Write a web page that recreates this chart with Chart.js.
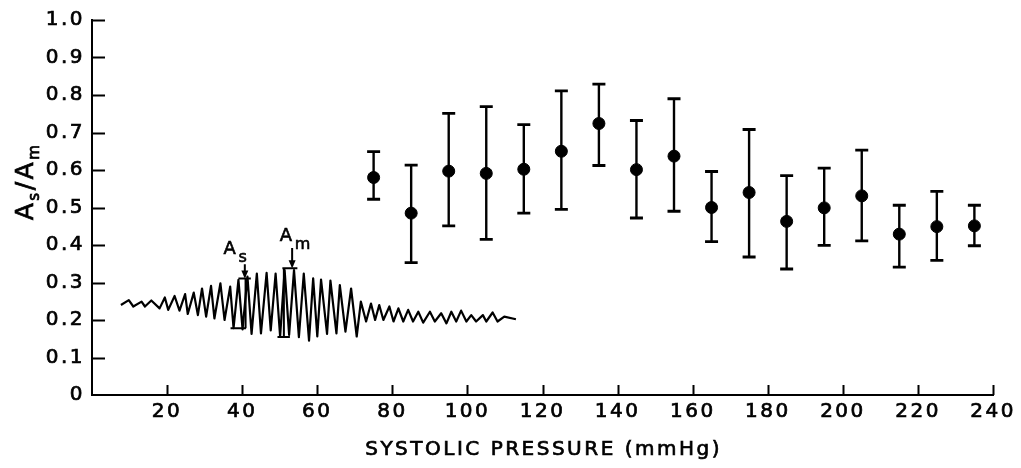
<!DOCTYPE html>
<html>
<head>
<meta charset="utf-8">
<script src="https://cdn.jsdelivr.net/npm/chart.js@4.4.1/dist/chart.umd.min.js"></script>
<style>
  html, body { margin: 0; padding: 0; background: #fff; }
  #wrap { width: 1021px; height: 468px; position: relative; }
</style>
</head>
<body>
<div id="wrap"><canvas id="ratioChart"></canvas></div>
<script>
// systolic pressure bins and As/Am ratio (mean with range)
const pressure = [75, 85, 95, 105, 115, 125, 135, 145, 155, 165, 175, 185, 195, 205, 215, 225, 235];
const ratioMean = [0.580, 0.485, 0.597, 0.591, 0.602, 0.650, 0.724, 0.601, 0.637, 0.500, 0.540, 0.463, 0.499, 0.531, 0.429, 0.449, 0.451];
const ratioLow = [0.522, 0.353, 0.451, 0.415, 0.485, 0.495, 0.612, 0.472, 0.490, 0.409, 0.368, 0.336, 0.399, 0.411, 0.341, 0.359, 0.398];
const ratioHigh = [0.649, 0.613, 0.751, 0.769, 0.721, 0.811, 0.829, 0.732, 0.790, 0.596, 0.708, 0.585, 0.605, 0.653, 0.506, 0.543, 0.506];

// inset cuff pressure trace
const waveX = [7.7, 9.8, 11.0, 13.2, 14.1, 15.8, 18.0, 19.4, 20.3, 22.0, 23.3, 24.8, 25.5, 27.1, 28.2, 29.3, 30.4, 31.7, 32.6, 34.2,
  35.3, 36.8, 37.7, 39.0, 40.1, 41.4, 42.5, 43.9, 45.0, 46.5, 47.6, 48.9, 50.1, 51.3, 52.5, 53.8, 55.1, 56.4, 57.8, 58.9,
  60.0, 61.0, 62.6, 63.5, 65.1, 66.0, 67.5, 69.0, 70.5, 71.6, 73.0, 74.3, 75.4, 76.5, 77.6, 79.2, 80.3, 81.6, 82.9, 84.2,
  85.5, 86.9, 88.2, 90.0, 91.3, 93.0, 94.4, 95.7, 97.0, 98.3, 99.7, 101.0, 102.3, 104.1, 105.0, 106.7, 108.0, 109.8, 112.9];
const waveY = [0.240, 0.253, 0.236, 0.249, 0.236, 0.252, 0.231, 0.260, 0.227, 0.264, 0.225, 0.269, 0.216, 0.273, 0.213, 0.284, 0.209, 0.291, 0.204, 0.298,
  0.200, 0.289, 0.178, 0.307, 0.175, 0.316, 0.163, 0.324, 0.164, 0.326, 0.172, 0.324, 0.156, 0.333, 0.160, 0.333, 0.154, 0.324, 0.145, 0.311,
  0.156, 0.308, 0.163, 0.305, 0.164, 0.293, 0.169, 0.284, 0.156, 0.249, 0.196, 0.244, 0.200, 0.240, 0.200, 0.236, 0.196, 0.231, 0.196, 0.227,
  0.196, 0.222, 0.193, 0.222, 0.196, 0.218, 0.191, 0.222, 0.196, 0.225, 0.196, 0.213, 0.196, 0.213, 0.196, 0.220, 0.196, 0.209, 0.202];

// As / Am markers on the trace (data units)
const markSub = ["s", "m"];
const markTopFrom = [39.0, 50.7], markTopTo = [42.3, 54.7], markTopY = [0.311, 0.338];
const markBotFrom = [36.9, 49.4], markBotTo = [41.0, 52.7], markBotY = [0.178, 0.155];
const markStemX = [40.9, 51.1];
const markArrowX = [40.7, 53.3], markArrowFrom = [0.349, 0.392];
const markLabelX = [36.6, 51.6], markLabelY = [0.394, 0.429];

const xTicks = [20, 40, 60, 80, 100, 120, 140, 160, 180, 200, 220, 240];
const xTitle = "SYSTOLIC PRESSURE (mmHg)";

const FONT = "'DejaVu Sans', sans-serif";

let errPts = [];
pressure.forEach((p, i) => {
    errPts.push({ x: p, y: ratioLow[i] }, { x: p, y: ratioHigh[i] }, { x: p, y: null });
});

const spacing = {
    id: "spacing",
    beforeUpdate(chart) { chart.ctx.letterSpacing = "2.5px"; },
    beforeDraw(chart) { chart.ctx.letterSpacing = "2.5px"; }
};

// draw text with a light outline so it reads as heavy as the original lettering
function heavyText(ctx, txt, x, y) {
    ctx.fillText(txt, x, y);
    ctx.strokeText(txt, x, y);
}

const extras = {
    id: "extras",
    afterDraw(chart) {
        const ctx = chart.ctx;
        const xs = chart.scales.x, ys = chart.scales.y;
        const area = chart.chartArea;
        ctx.save();
        ctx.strokeStyle = "#000";
        ctx.fillStyle = "#000";
        ctx.lineWidth = 2;

        // inward tick marks
        ctx.beginPath();
        for (let v = 1; v <= 10; v++) {
            const py = Math.round(ys.getPixelForValue(v / 10)) + 0.5;
            ctx.moveTo(area.left, py);
            ctx.lineTo(area.left + 13, py);
        }
        xTicks.forEach(t => {
            const px = Math.round(xs.getPixelForValue(t)) + 0.5;
            ctx.moveTo(px, area.bottom);
            ctx.lineTo(px, area.bottom - 10);
        });
        ctx.stroke();

        // As / Am brackets and arrows
        markSub.forEach((s, i) => {
            ctx.lineWidth = 2;
            ctx.beginPath();
            const ty = ys.getPixelForValue(markTopY[i]);
            const by = ys.getPixelForValue(markBotY[i]);
            ctx.moveTo(xs.getPixelForValue(markTopFrom[i]), ty);
            ctx.lineTo(xs.getPixelForValue(markTopTo[i]), ty);
            ctx.moveTo(xs.getPixelForValue(markBotFrom[i]), by);
            ctx.lineTo(xs.getPixelForValue(markBotTo[i]), by);
            const sx = xs.getPixelForValue(markStemX[i]);
            ctx.moveTo(sx, ty);
            ctx.lineTo(sx, by);
            const ax = xs.getPixelForValue(markArrowX[i]);
            const ay0 = ys.getPixelForValue(markArrowFrom[i]);
            ctx.moveTo(ax, ay0);
            ctx.lineTo(ax, ty - 2);
            ctx.stroke();
            ctx.beginPath();
            ctx.moveTo(ax, ty);
            ctx.lineTo(ax - 3.5, ty - 8);
            ctx.lineTo(ax + 3.5, ty - 8);
            ctx.closePath();
            ctx.fill();

            ctx.letterSpacing = "0px";
            ctx.textBaseline = "alphabetic";
            ctx.textAlign = "left";
            ctx.lineWidth = 0.6;
            const lx = xs.getPixelForValue(markLabelX[i]);
            const ly = ys.getPixelForValue(markLabelY[i]);
            ctx.font = "18px " + FONT;
            heavyText(ctx, "A", lx - 6, ly + 7);
            ctx.font = "16px " + FONT;
            heavyText(ctx, s, lx + 9, ly + 15);
        });

        // x axis title
        ctx.letterSpacing = "2.5px";
        ctx.lineWidth = 0.7;
        ctx.font = "20px " + FONT;
        ctx.textAlign = "center";
        ctx.textBaseline = "middle";
        heavyText(ctx, xTitle, (area.left + area.right) / 2 + 1, 450);

        // y axis title  As/Am with subscripts
        ctx.textAlign = "left";
        ctx.textBaseline = "alphabetic";
        ctx.translate(33, 181.5);
        ctx.rotate(-Math.PI / 2);
        const parts = [["A", 25, 0], ["s", 15, 6], ["/", 25, 0], ["A", 25, 0], ["m", 15, 6]];
        let total = 0;
        parts.forEach(p => { ctx.font = p[1] + "px " + FONT; total += ctx.measureText(p[0]).width; });
        let u = -total / 2;
        parts.forEach(p => {
            ctx.font = p[1] + "px " + FONT;
            heavyText(ctx, p[0], u, p[2]);
            u += ctx.measureText(p[0]).width;
        });
        ctx.restore();
    }
};

new Chart(document.getElementById("ratioChart"), {
    type: "scatter",
    data: {
        datasets: [
            {
                label: "mean",
                data: pressure.map((p, i) => ({ x: p, y: ratioMean[i] })),
                backgroundColor: "#000",
                borderColor: "#000",
                pointRadius: 6,
                showLine: false
            },
            {
                label: "range",
                type: "line",
                data: errPts,
                borderColor: "#000",
                borderWidth: 2.4,
                pointStyle: "line",
                pointRadius: 6.5,
                pointBorderWidth: 2.8,
                pointBorderColor: "#000",
                spanGaps: false,
                tension: 0
            },
            {
                label: "trace",
                type: "line",
                data: waveX.map((x, i) => ({ x: x, y: waveY[i] })),
                borderColor: "#000",
                borderWidth: 2.2,
                borderJoinStyle: "round",
                pointRadius: 0,
                tension: 0
            }
        ]
    },
    options: {
        responsive: true,
        maintainAspectRatio: false,
        animation: false,
        layout: { padding: { left: 0, top: 20, right: 20, bottom: 0 } },
        plugins: {
            legend: { display: false },
            tooltip: { enabled: false }
        },
        scales: {
            x: {
                type: "linear",
                min: 0,
                max: 240,
                grid: { display: false, drawTicks: false },
                border: { display: true, color: "#000", width: 2 },
                afterFit: s => { s.height = 73; },
                afterBuildTicks: s => { s.ticks = xTicks.map(v => ({ value: v })); },
                ticks: {
                    color: "#000",
                    font: { family: FONT, size: 20 },
                    textStrokeColor: "#000",
                    textStrokeWidth: 0.7,
                    padding: 5,
                    maxRotation: 0,
                    autoSkip: false
                }
            },
            y: {
                min: 0,
                max: 1,
                grid: { display: false, drawTicks: false },
                border: { display: true, color: "#000", width: 2 },
                afterFit: s => { s.width = 92; },
                ticks: {
                    stepSize: 0.1,
                    color: "#000",
                    font: { family: FONT, size: 20 },
                    textStrokeColor: "#000",
                    textStrokeWidth: 0.7,
                    padding: 7,
                    callback: v => (v === 0 ? "0" : v.toFixed(1))
                }
            }
        }
    },
    plugins: [spacing, extras]
});
</script>
</body>
</html>
